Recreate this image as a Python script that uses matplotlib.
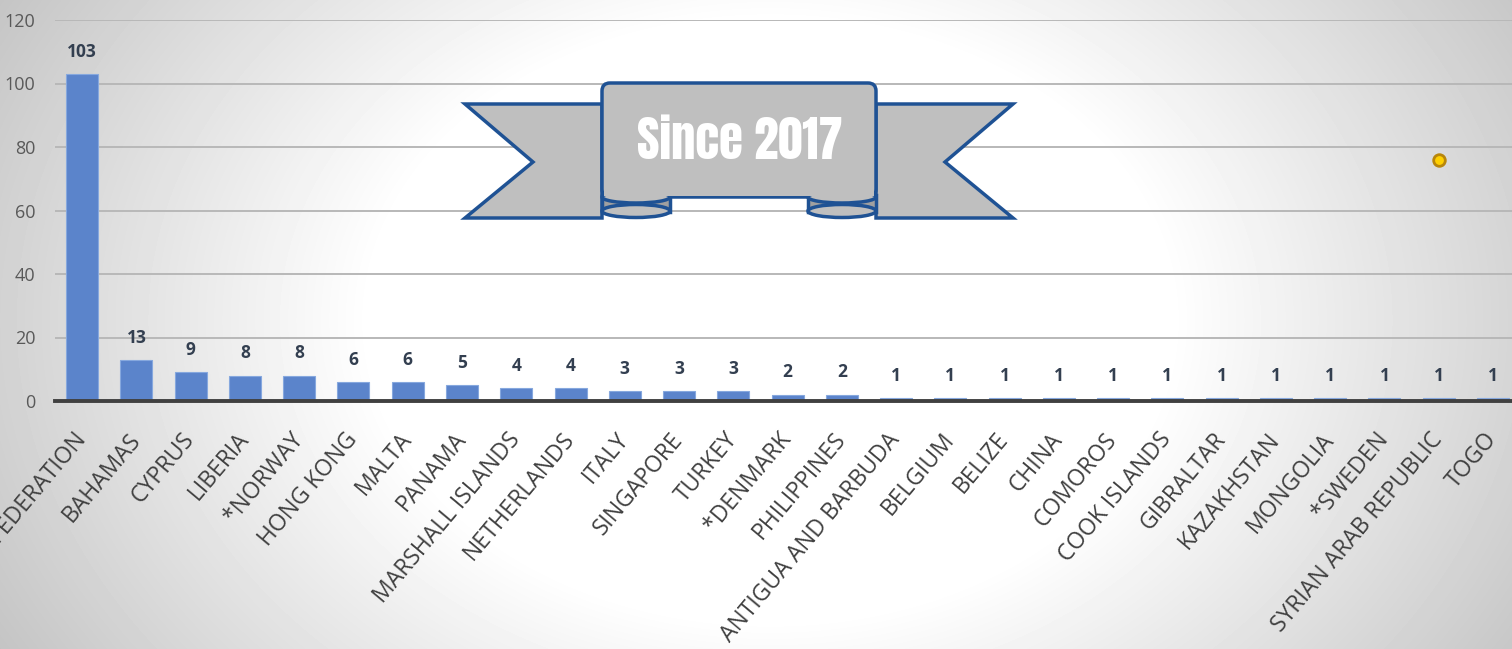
import numpy as np
import matplotlib
matplotlib.use("Agg")
import matplotlib.pyplot as plt
from matplotlib.patches import Polygon, Ellipse, FancyBboxPatch

# data
countries = ["RUSSIAN FEDERATION", "BAHAMAS", "CYPRUS", "LIBERIA", "*NORWAY",
             "HONG KONG", "MALTA", "PANAMA", "MARSHALL ISLANDS", "NETHERLANDS",
             "ITALY", "SINGAPORE", "TURKEY", "*DENMARK", "PHILIPPINES",
             "ANTIGUA AND BARBUDA", "BELGIUM", "BELIZE", "CHINA", "COMOROS",
             "COOK ISLANDS", "GIBRALTAR", "KAZAKHSTAN", "MONGOLIA", "*SWEDEN",
             "SYRIAN ARAB REPUBLIC", "TOGO"]
counts = [103, 13, 9, 8, 8, 6, 6, 5, 4, 4, 3, 3, 3, 2, 2,
          1, 1, 1, 1, 1, 1, 1, 1, 1, 1, 1, 1]
yticks = [0, 20, 40, 60, 80, 100, 120]
marker_x = [25]
marker_y = [76]
banner_text = "Since 2017"

W, H = 1512, 649
fig = plt.figure(figsize=(W / 100, H / 100), dpi=100)

# radial grey background, white around the middle
bg = fig.add_axes([0, 0, 1, 1], zorder=0)
yy, xx = np.mgrid[0:H, 0:W]
d = np.sqrt(((xx - 770) / 800.0) ** 2 + ((yy - 320) / 600.0) ** 2)
f = np.clip((d - 0.5) / 0.5, 0, 1.25)
shade = 1.0 - 0.19 * f
bg.imshow(shade, cmap="gray", vmin=0, vmax=1, aspect="auto", extent=[0, W, H, 0])
bg.axis("off")

# main bar chart
ax = fig.add_axes([55 / W, 248 / H, (W - 55) / W, 381 / H], zorder=1)
ax.set_facecolor("none")
x = np.arange(len(countries))
ax.bar(x, counts, width=0.59, color="#5B84CB", edgecolor="#86a8de",
       linewidth=0.8, zorder=3)
for xi, v in zip(x, counts):
    ax.annotate(str(v), (xi, v), xytext=(0, 16), textcoords="offset points",
                ha="center", va="center", fontsize=12.5, fontweight="bold",
                color="#333F50", family="Open Sans", zorder=4)

ax.set_xlim(-0.5, 26.35)
ax.set_ylim(0, 120)
ax.set_yticks(yticks)
ax.set_xticks(x)
# anchor the upper end of each label at its tick
ax.set_xticklabels(countries, rotation=50, ha="right", va="center",
                   rotation_mode="anchor", family="Open Sans",
                   fontsize=16.5, color="#404040")
ax.tick_params(axis="x", length=0, pad=25)
ax.tick_params(axis="y", length=0, pad=14, labelsize=13, labelcolor="#595959")
for lab in ax.get_yticklabels():
    lab.set_family("Open Sans")
ax.grid(axis="y", color="#b8b8b8", linewidth=1.4, zorder=0)
for s in ["top", "right", "left"]:
    ax.spines[s].set_visible(False)
ax.spines["bottom"].set_color("#404040")
ax.spines["bottom"].set_linewidth(2.8)
ax.spines["bottom"].set_zorder(5)

ax.scatter(marker_x, marker_y, s=70, facecolor="#FFD000", edgecolor="#B8860B",
           linewidth=2, zorder=6)

# ribbon banner (pixel coords)
ov = fig.add_axes([0, 0, 1, 1], zorder=2)
ov.set_xlim(0, W)
ov.set_ylim(H, 0)
ov.axis("off")
light = "#BFBFBF"
dark = "#A0A0A0"
blue = "#1F5294"
lw = 2.5

left_tail = [(465, 104), (602, 104), (602, 218), (465, 218), (533, 162)]
right_tail = [(1013, 104), (876, 104), (876, 218), (1013, 218), (945, 162)]
for pts in [left_tail, right_tail]:
    ov.add_patch(Polygon(pts, closed=True, facecolor=light, edgecolor=blue,
                         linewidth=lw, joinstyle="miter", zorder=1))

for x0 in [602, 808]:
    ov.add_patch(Polygon([(x0, 195), (x0 + 68, 195), (x0 + 68, 212), (x0, 212)],
                         closed=True, facecolor=dark, edgecolor=blue,
                         linewidth=lw, zorder=2))
    ov.add_patch(Ellipse((x0 + 34, 211), 68, 13, facecolor=light,
                         edgecolor=blue, linewidth=lw, zorder=3))

ov.add_patch(FancyBboxPatch((602, 83), 274, 114,
                            boxstyle="round,pad=0,rounding_size=8",
                            facecolor=light, edgecolor=blue, linewidth=lw,
                            zorder=4))
for xc in [636, 842]:
    ov.add_patch(Ellipse((xc, 197), 68, 12, facecolor=light, edgecolor=blue,
                         linewidth=lw, zorder=5))
ov.add_patch(Polygon([(604, 188), (874, 188), (874, 196), (604, 196)],
                     closed=True, facecolor=light, edgecolor="none", zorder=6))

ov.text(740, 141, banner_text, ha="center", va="center", color="white",
        fontsize=35, family=["Anton", "DejaVu Sans"], zorder=7)

fig.savefig("out.png", dpi=100)
